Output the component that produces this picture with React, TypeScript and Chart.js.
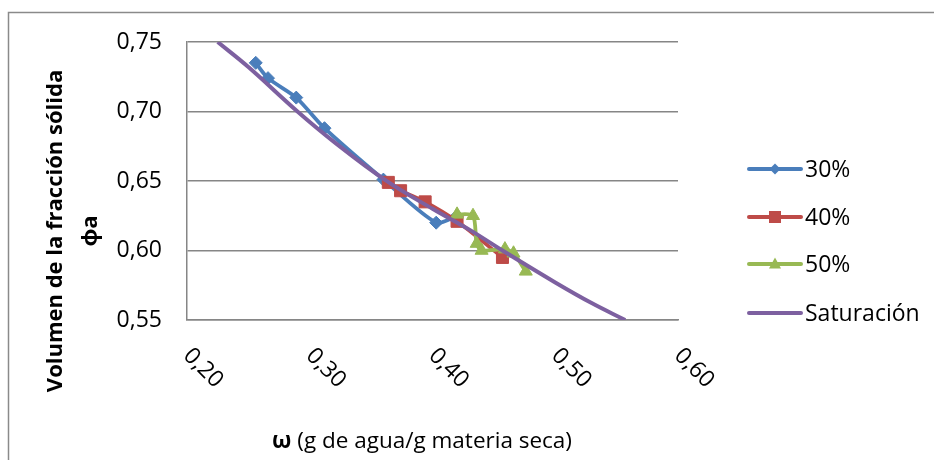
import React, { useEffect, useRef } from "react";
import { Chart, registerables } from "chart.js";

Chart.register(...registerables);

const legendLabels = ["30%", "40%", "50%", "Saturación"];
const colors = ["#4A7EBB", "#BE4B48", "#98B954", "#7D60A0"];

const s30X = [0.256, 0.266, 0.289, 0.312, 0.36, 0.403, 0.42];
const s30Y = [0.735, 0.724, 0.71, 0.688, 0.651, 0.62, 0.625];

const s40X = [0.364, 0.374, 0.394, 0.42, 0.457];
const s40Y = [0.649, 0.643, 0.635, 0.621, 0.595];

const s50X = [0.42, 0.433, 0.436, 0.44, 0.459, 0.466, 0.476];
const s50Y = [0.626, 0.625, 0.605, 0.6, 0.601, 0.598, 0.585];

const satX = [0.225, 0.25, 0.29, 0.32, 0.361, 0.4, 0.43, 0.457, 0.5, 0.53, 0.557];
const satY = [0.75, 0.732, 0.7, 0.678, 0.651, 0.63, 0.615, 0.6, 0.577, 0.562, 0.55];

const xTicks = [0.2, 0.3, 0.4, 0.5, 0.6];
const yTitle1 = "Volumen de la fracción sólida";
const yTitle2 = "ϕa";
const xTitleBold = "ω";
const xTitleRest = " (g de agua/g materia seca)";

const FONT = "'Open Sans', 'Noto Sans', sans-serif";
const fmt = (v: number) => v.toFixed(2).replace(".", ",");

const zip = (xs: number[], ys: number[]) => xs.map((x, i) => ({ x, y: ys[i] }));

function drawMarker(ctx: CanvasRenderingContext2D, kind: string, x: number, y: number, r: number) {
  ctx.beginPath();
  if (kind === "diamond") {
    ctx.moveTo(x - r, y);
    ctx.lineTo(x, y - r);
    ctx.lineTo(x + r, y);
    ctx.lineTo(x, y + r);
  } else if (kind === "square") {
    ctx.rect(x - r, y - r, 2 * r, 2 * r);
  } else if (kind === "triangle") {
    ctx.moveTo(x, y - r * 1.1);
    ctx.lineTo(x + r, y + r * 0.75);
    ctx.lineTo(x - r, y + r * 0.75);
  }
  ctx.closePath();
  ctx.fill();
}

const decorPlugin = {
  id: "decor",
  beforeDraw(chart: any) {
    const ctx = chart.ctx;
    ctx.save();
    ctx.fillStyle = "#fff";
    ctx.fillRect(0, 0, chart.width, chart.height);
    ctx.strokeStyle = "#8a8a8a";
    ctx.lineWidth = 1.5;
    ctx.strokeRect(8.5, 12.5, 1200, 1200);
    ctx.restore();
  },
  afterDraw(chart: any) {
    const ctx = chart.ctx as CanvasRenderingContext2D;
    const xs = chart.scales.x;
    ctx.save();
    ctx.fillStyle = "#000";
    // x tick labels rotated 45deg clockwise
    ctx.font = `23px ${FONT}`;
    ctx.textAlign = "left";
    ctx.textBaseline = "middle";
    xTicks.forEach((v) => {
      const px = xs.getPixelForValue(v);
      ctx.save();
      ctx.translate(px, 352);
      ctx.rotate(Math.PI / 4);
      ctx.fillText(fmt(v), 0, 0);
      ctx.restore();
    });
    // x title
    ctx.font = `bold 22.5px ${FONT}`;
    const wb = ctx.measureText(xTitleBold).width;
    ctx.font = `22.5px ${FONT}`;
    const wr = ctx.measureText(xTitleRest).width;
    const startX = 422 - (wb + wr) / 2;
    ctx.textBaseline = "middle";
    ctx.font = `bold 22.5px ${FONT}`;
    ctx.fillText(xTitleBold, startX, 442);
    ctx.font = `22.5px ${FONT}`;
    ctx.fillText(xTitleRest, startX + wb, 442);
    // y title
    ctx.save();
    ctx.font = `bold 22px ${FONT}`;
    ctx.textAlign = "center";
    ctx.translate(56, 231);
    ctx.rotate(-Math.PI / 2);
    ctx.fillText(yTitle1, 0, 0);
    ctx.fillText(yTitle2, 0, 35);
    ctx.restore();
    // legend
    const kinds = ["diamond", "square", "triangle", "none"];
    const sizes = [5.5, 6, 6, 0];
    const ys = [169, 217, 264, 313];
    legendLabels.forEach((lab, i) => {
      const y = ys[i];
      ctx.strokeStyle = colors[i];
      ctx.lineWidth = 4;
      ctx.lineCap = "round";
      ctx.beginPath();
      ctx.moveTo(749, y);
      ctx.lineTo(801, y);
      ctx.stroke();
      ctx.fillStyle = colors[i];
      if (kinds[i] !== "none") drawMarker(ctx, kinds[i], 775, y, sizes[i]);
      ctx.fillStyle = "#000";
      ctx.font = `23px ${FONT}`;
      ctx.textAlign = "left";
      ctx.textBaseline = "middle";
      ctx.fillText(lab, 805, y + 1);
    });
    ctx.restore();
  },
};

export default function App() {
  const ref = useRef<HTMLCanvasElement | null>(null);
  useEffect(() => {
    if (!ref.current) return;
    const mk = (i: number, data: any[], style: string, r: number, extra: any = {}) => ({
      label: legendLabels[i],
      data,
      showLine: true,
      borderColor: colors[i],
      backgroundColor: colors[i],
      pointBackgroundColor: colors[i],
      pointBorderColor: colors[i],
      pointBorderWidth: 1,
      pointStyle: style,
      pointRadius: r,
      borderWidth: 3.8,
      tension: 0.25,
      ...extra,
    });
    const chart = new Chart(ref.current, {
      type: "scatter",
      data: {
        datasets: [
          mk(0, zip(s30X, s30Y), "rectRot", 6.5, { order: 4 }),
          mk(1, zip(s40X, s40Y), "rect", 8.5, { order: 3 }),
          mk(2, zip(s50X, s50Y), "triangle", 7.5, { order: 2 }),
          mk(3, zip(satX, satY), "circle", 0, { order: 1, borderWidth: 4, tension: 0.4 }),
        ],
      },
      options: {
        animation: false,
        responsive: false,
        devicePixelRatio: 1,
        layout: { padding: { left: 0, top: 42, right: 256, bottom: 0 } },
        plugins: { legend: { display: false }, tooltip: { enabled: false } },
        scales: {
          x: {
            type: "linear",
            min: 0.2,
            max: 0.6,
            ticks: { display: false, stepSize: 0.1 },
            grid: { display: false },
            border: { display: true, color: "#868686", width: 1.5 },
            afterFit: (s: any) => {
              s.height = 140;
            },
          },
          y: {
            type: "linear",
            min: 0.55,
            max: 0.75,
            ticks: {
              stepSize: 0.05,
              padding: 25,
              color: "#000",
              font: { family: FONT, size: 23 },
              callback: (v: any) => fmt(Number(v)),
            },
            grid: { color: "#868686", lineWidth: 1.5, drawTicks: false },
            border: { display: true, color: "#868686", width: 1.5 },
            afterFit: (s: any) => {
              s.width = 187;
            },
          },
        },
      },
      plugins: [decorPlugin],
    });
    return () => chart.destroy();
  }, []);
  return (
    <div style={{ position: "fixed", left: 0, top: 0, width: 934, height: 460, background: "#fff" }}>
      <canvas ref={ref} width={934} height={460} style={{ width: 934, height: 460, display: "block" }} />
    </div>
  );
}
